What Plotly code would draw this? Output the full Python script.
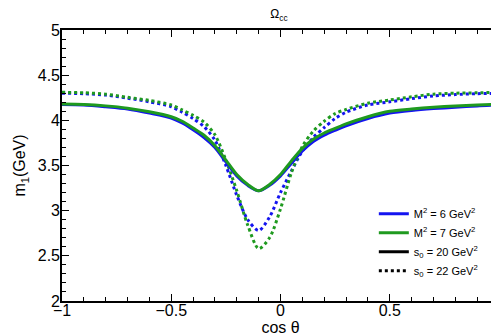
import plotly.graph_objects as go

cos_theta = [-1, -0.9, -0.8, -0.7, -0.6, -0.5, -0.45, -0.4, -0.35, -0.3, -0.25, -0.2, -0.15, -0.1,
             -0.05, 0, 0.05, 0.1, 0.15, 0.2, 0.25, 0.3, 0.4, 0.5, 0.6, 0.7, 0.8, 0.9, 1]

m1_M6_s20 = [4.175, 4.17, 4.15, 4.125, 4.08, 4.025, 3.97, 3.895, 3.81, 3.70, 3.54, 3.385, 3.28, 3.22,
             3.28, 3.385, 3.525, 3.66, 3.765, 3.835, 3.89, 3.94, 4.02, 4.08, 4.11, 4.13, 4.145, 4.16, 4.17]
m1_M7_s20 = [4.18, 4.175, 4.16, 4.135, 4.095, 4.04, 3.99, 3.915, 3.835, 3.72, 3.56, 3.40, 3.29, 3.22,
             3.29, 3.40, 3.55, 3.69, 3.79, 3.86, 3.91, 3.96, 4.04, 4.10, 4.125, 4.145, 4.16, 4.17, 4.18]
m1_M6_s22 = [4.30, 4.295, 4.28, 4.245, 4.205, 4.15, 4.09, 4.02, 3.93, 3.78, 3.50, 3.17, 2.90, 2.78,
             2.93, 3.20, 3.44, 3.66, 3.81, 3.92, 4.02, 4.09, 4.17, 4.205, 4.24, 4.27, 4.285, 4.295, 4.30]
m1_M7_s22 = [4.31, 4.305, 4.29, 4.255, 4.22, 4.17, 4.115, 4.055, 3.98, 3.84, 3.56, 3.22, 2.84, 2.58,
             2.70, 3.02, 3.42, 3.71, 3.88, 3.99, 4.075, 4.12, 4.19, 4.225, 4.26, 4.29, 4.30, 4.305, 4.31]

x_tickvals = [-1, -0.5, 0, 0.5, 1]
x_ticktext = ["\u22121", "\u22120.5", "0", "0.5", "1"]
y_tickvals = [2, 2.5, 3, 3.5, 4, 4.5, 5]
y_ticktext = ["2", "2.5", "3", "3.5", "4", "4.5", "5"]

legend_labels = ["M<sup>2</sup> = 6 GeV<sup>2</sup>", "M<sup>2</sup> = 7 GeV<sup>2</sup>",
                 "s<sub>0</sub> = 20 GeV<sup>2</sup>", "s<sub>0</sub> = 22 GeV<sup>2</sup>"]

BLUE = "#1414f0"
GREEN = "#1f9a1f"
FONT = "Liberation Sans, Arial"

fig = go.Figure()
for y, c, d in [(m1_M6_s22, BLUE, "dot"), (m1_M7_s22, GREEN, "dot"),
                (m1_M6_s20, BLUE, "solid"), (m1_M7_s20, GREEN, "solid")]:
    fig.add_trace(go.Scatter(x=cos_theta, y=y, mode="lines", showlegend=False,
                             line=dict(color=c, width=3, dash=d, shape="spline", smoothing=0.8)))

for lab, c, d in zip(legend_labels, [BLUE, GREEN, "black", "black"], ["solid", "solid", "solid", "dot"]):
    fig.add_trace(go.Scatter(x=[None], y=[None], mode="lines", name=lab,
                             line=dict(color=c, width=3, dash=d)))

axis_common = dict(showline=True, linecolor="black", linewidth=1.6, mirror="ticks",
                   ticks="inside", ticklen=7, tickwidth=1.3, tickcolor="black",
                   showgrid=False, zeroline=False,
                   tickfont=dict(family=FONT, size=16, color="black"))

fig.update_xaxes(range=[-1, 1], tickvals=x_tickvals, ticktext=x_ticktext, ticklabelstandoff=-6,
                 minor=dict(ticks="inside", ticklen=4, dtick=0.1, tickcolor="black", tickwidth=1.2, showgrid=False),
                 title=dict(text="cos \u03b8", font=dict(family=FONT, size=16, color="black"), standoff=0),
                 **axis_common)
fig.update_yaxes(range=[2, 5], tickvals=y_tickvals, ticktext=y_ticktext, ticklabelstandoff=-3,
                 minor=dict(ticks="inside", ticklen=4, dtick=0.1, tickcolor="black", tickwidth=1.2, showgrid=False),
                 title=dict(text="m<sub>1</sub>(GeV)", font=dict(family=FONT, size=16, color="black"),
                            standoff=8),
                 **axis_common)

fig.update_layout(
    width=499, height=336,
    margin=dict(l=54, r=3, t=22, b=43),
    plot_bgcolor="white", paper_bgcolor="white",
    title=dict(text="\u03a9<sub>cc</sub>", x=0.543, xanchor="center", y=0.995, yanchor="top",
               font=dict(family=FONT, size=12, color="black")),
    legend=dict(x=0.963, xanchor="right", y=0.058, yanchor="bottom", bgcolor="rgba(0,0,0,0)",
                font=dict(family=FONT, size=11, color="black"),
                tracegroupgap=0, itemwidth=30),
)

fig.write_html("out.html")
